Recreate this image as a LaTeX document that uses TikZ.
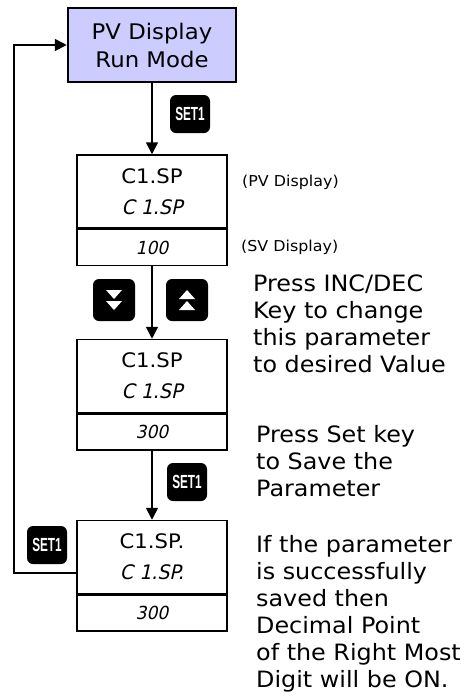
\documentclass[tikz,border=0pt]{standalone}
\usepackage{fontspec}
\setmainfont{DejaVu Sans}[FakeStretch=1.06]
\newfontfamily\segfont{DejaVu Sans}[FakeSlant=0.22,FakeStretch=0.95]
\newfontfamily\keyfont{Liberation Sans}[FakeStretch=0.62]
\usepackage{tikz}
\usetikzlibrary{arrows.meta,positioning}
\definecolor{runblue}{RGB}{204,204,255}
\tikzset{
  pvbox/.style={draw,line width=1.5pt,minimum width=150pt,minimum height=73pt,
    inner sep=0pt,align=center,font=\fontsize{20}{31}\selectfont},
  svbox/.style={draw,line width=1.5pt,minimum width=150pt,minimum height=36pt,
    inner sep=0pt,font=\segfont\fontsize{18}{18}\selectfont},
  keybox/.style={fill=black,rounded corners=6pt,minimum width=40pt,minimum height=38pt,
    inner sep=0pt,text=white,font=\keyfont\bfseries\fontsize{19}{19}\selectfont},
  flow/.style={line width=1.7pt,-{Triangle[length=12pt,width=12pt]}},
  notetext/.style={align=left,anchor=north west,inner sep=0pt,font=\fontsize{22.5}{27}\selectfont},
  smallnote/.style={anchor=west,inner sep=0pt,font=\fontsize{15}{16}\selectfont}
}
\newcommand{\seg}[1]{{\segfont\fontsize{20}{20}\selectfont #1}}

\begin{document}
\begin{tikzpicture}[x=1pt,y=-1pt]
\useasboundingbox (0,0) rectangle (466,697);

% run mode box
\node[draw,line width=2.5pt,fill=runblue,minimum width=168pt,minimum height=74pt,
  align=center,font=\fontsize{21.5}{28}\selectfont] (run) at (152,45) {PV Display\\Run Mode};

% display boxes
\node[pvbox] (pv1) at (152,191.5) {C1.SP\\\seg{C 1.SP}};
\node[svbox,below=0pt of pv1] (sv1) {100};
\node[pvbox] (pv2) at (152,376) {C1.SP\\\seg{C 1.SP}};
\node[svbox,below=0pt of pv2] (sv2) {300};
\node[pvbox] (pv3) at (152,557) {C1.SP.\\\seg{C 1.SP.}};
\node[svbox,below=0pt of pv3] (sv3) {300};

% keys
\node[keybox] (set1) at (190,114) {SET1};
\node[keybox] (set2) at (187,482) {SET1};
\node[keybox] (set3) at (47,545) {SET1};
\node[keybox,minimum width=42pt,minimum height=42pt] (dec) at (114,300) {};
\node[keybox,minimum width=42pt,minimum height=42pt] (inc) at (187,300) {};
\begin{scope}[shift={(dec.center)}]
\fill[white] (-8,-10) -- (8,-10) -- (0,-1) -- cycle;
\fill[white] (-8,1) -- (8,1) -- (0,10) -- cycle;
\end{scope}
\begin{scope}[shift={(inc.center)}]
\fill[white] (-8,10) -- (8,10) -- (0,1) -- cycle;
\fill[white] (-8,-1) -- (8,-1) -- (0,-10) -- cycle;
\end{scope}

% connectors
\draw[flow] (run.south) -- (pv1.north);
\draw[flow] (sv1.south) -- (pv2.north);
\draw[flow] (sv2.south) -- (pv3.north);
\draw[flow] ([yshift=-16pt]pv3.west) -- ++(-62,0) |- (run.west);

% notes
\node[smallnote] (pvlbl) at (242,182) {(PV Display)};
\node[smallnote] (svlbl) at (241,247) {(SV Display)};
\node[notetext] (incdec) at (253,275) {Press INC/DEC\\Key to change\\this parameter\\to desired Value};
\node[notetext] (savenote) at (256,425) {Press Set key\\to Save the\\Parameter};
\node[notetext] (donenote) at (256,535) {If the parameter\\is successfully\\saved then\\Decimal Point\\of the Right Most\\Digit will be ON.};

\end{tikzpicture}
\end{document}
